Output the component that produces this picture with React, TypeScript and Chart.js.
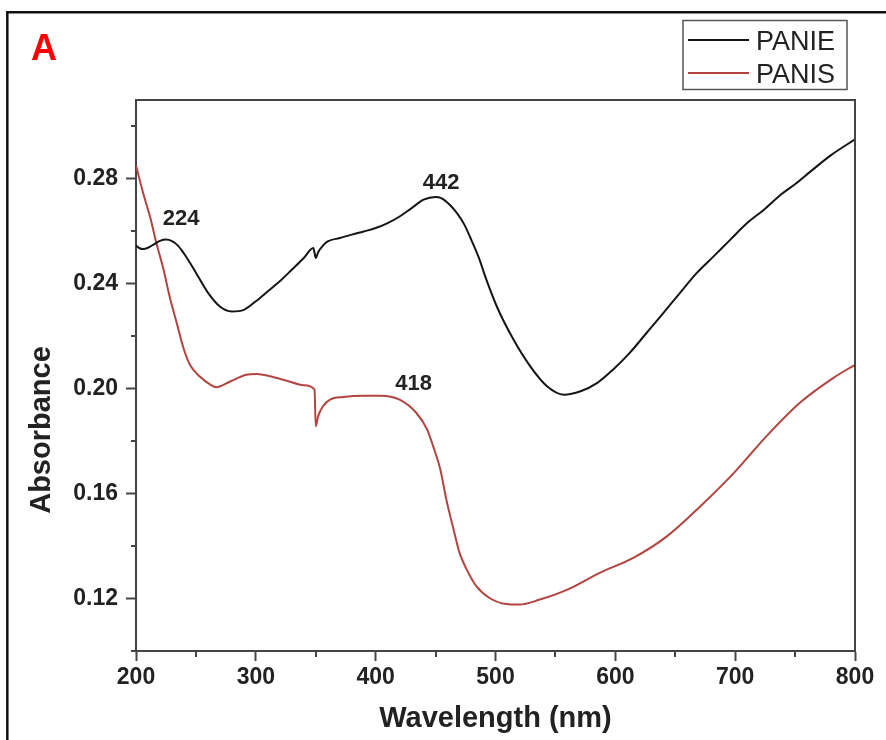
import React, { useEffect, useRef } from "react";
import { Chart, registerables } from "chart.js";

Chart.register(...registerables);

// ---- Data ----
const panieWavelength = [
  200, 203, 206, 210, 215, 220, 225, 230, 235, 240, 245, 250, 260, 270, 280, 290, 300, 310, 320, 330, 340,
  348, 350, 352, 356, 360, 370, 380, 390, 400, 410, 420, 430, 440, 450, 455, 462, 468, 474, 480, 486, 492,
  501, 515, 529, 543, 557, 571, 585, 598, 612, 626, 640, 654, 668, 682, 696, 710, 724, 738, 751, 763, 780, 800,
];
const panieAbsorbance = [
  0.2545, 0.2535, 0.2532, 0.2537, 0.255, 0.2563, 0.2568, 0.2562, 0.2545, 0.2515, 0.248, 0.2442, 0.2366,
  0.2313, 0.2294, 0.23, 0.2333, 0.2371, 0.2409, 0.2453, 0.2498, 0.2536, 0.2498, 0.252, 0.2545, 0.2561,
  0.2574, 0.2587, 0.2599, 0.2612, 0.2631, 0.2656, 0.2688, 0.272, 0.273, 0.2725, 0.27, 0.2668, 0.2625,
  0.2565, 0.25, 0.242, 0.2314, 0.2187, 0.2085, 0.2009, 0.1977, 0.199, 0.2022, 0.2072, 0.2136, 0.2212,
  0.2288, 0.2365, 0.2441, 0.2504, 0.2568, 0.2631, 0.2682, 0.2739, 0.2783, 0.2828, 0.289, 0.295,
];
const panisWavelength = [
  200, 206, 212, 217, 223, 228, 234, 240, 245, 253, 262, 267, 279, 292, 301, 312, 326, 340, 349, 350,
  352, 356, 362, 373, 390, 404, 420, 434, 443, 448, 454, 459, 465, 470, 476, 484, 495, 509, 520, 537,
  560, 587, 615, 643, 671, 699, 726, 754, 782, 800,
];
const panisAbsorbance = [
  0.285, 0.2745, 0.265, 0.2555, 0.2453, 0.2352, 0.225, 0.2149, 0.2091, 0.2047, 0.2015, 0.2005, 0.2028,
  0.2053, 0.2056, 0.2047, 0.203, 0.2013, 0.1996, 0.1857, 0.1895, 0.1933, 0.1958, 0.1968, 0.1973, 0.1973,
  0.1958, 0.1907, 0.1844, 0.178, 0.1691, 0.1577, 0.1463, 0.1374, 0.131, 0.1247, 0.1202, 0.1179, 0.1177,
  0.1196, 0.1234, 0.1298, 0.1355, 0.1437, 0.1552, 0.1679, 0.1818, 0.1946, 0.2041, 0.2091,
];
const seriesNames = ["PANIE", "PANIS"];
const xMajorTicks = [200, 300, 400, 500, 600, 700, 800];
const xMinorTicks = [250, 350, 450, 550, 650, 750];
const yMajorTicks = [0.12, 0.16, 0.2, 0.24, 0.28];
const yMinorTicks = [0.1, 0.14, 0.18, 0.22, 0.26, 0.3];
const peakLabels = ["224", "442", "418"];
const peakLabelX = [237.6, 454.6, 431.6];
const peakLabelY = [0.2625, 0.2762, 0.1996];

const AXIS_COLOR = "#444";
const TEXT_COLOR = "#222";
const FONT = "'Liberation Sans', Arial, Helvetica, sans-serif";

const decorPlugin = {
  id: "decor",
  afterDraw(chart: any) {
    const { ctx, chartArea, scales } = chart;
    const xs = scales.x;
    const ys = scales.y;
    ctx.save();
    // top and right frame of plot
    ctx.strokeStyle = AXIS_COLOR;
    ctx.lineWidth = 2;
    ctx.beginPath();
    ctx.moveTo(chartArea.left, chartArea.top);
    ctx.lineTo(chartArea.right, chartArea.top);
    ctx.lineTo(chartArea.right, chartArea.bottom);
    ctx.stroke();
    // minor ticks
    ctx.beginPath();
    xMinorTicks.forEach((v) => {
      const px = Math.round(xs.getPixelForValue(v));
      ctx.moveTo(px, chartArea.bottom);
      ctx.lineTo(px, chartArea.bottom + 6);
    });
    yMinorTicks.forEach((v) => {
      const py = Math.round(ys.getPixelForValue(v));
      ctx.moveTo(chartArea.left - 5, py);
      ctx.lineTo(chartArea.left, py);
    });
    ctx.stroke();

    // outer figure frame
    ctx.strokeStyle = "#111";
    ctx.lineWidth = 2.5;
    ctx.beginPath();
    ctx.moveTo(7.3, 760);
    ctx.lineTo(7.3, 12.2);
    ctx.lineTo(900, 12.2);
    ctx.stroke();

    // panel letter
    ctx.fillStyle = "#ff0000";
    ctx.font = `bold 36px ${FONT}`;
    ctx.textAlign = "left";
    ctx.textBaseline = "alphabetic";
    ctx.fillText("A", 31, 60);

    // peak labels
    ctx.fillStyle = TEXT_COLOR;
    ctx.font = `bold 22px ${FONT}`;
    ctx.textAlign = "center";
    peakLabels.forEach((t, i) => {
      ctx.fillText(t, xs.getPixelForValue(peakLabelX[i]), ys.getPixelForValue(peakLabelY[i]));
    });

    // y axis title
    ctx.save();
    ctx.translate(50, 430);
    ctx.rotate(-Math.PI / 2);
    ctx.font = `bold 29px ${FONT}`;
    ctx.textAlign = "center";
    ctx.textBaseline = "alphabetic";
    ctx.fillText("Absorbance", 0, 0);
    ctx.restore();

    // legend
    ctx.strokeStyle = "#555";
    ctx.lineWidth = 1.5;
    ctx.strokeRect(683, 20.5, 164, 69);
    chart.data.datasets.forEach((ds: any, i: number) => {
      const ly = i === 0 ? 40 : 73;
      ctx.strokeStyle = ds.borderColor;
      ctx.lineWidth = 2;
      ctx.beginPath();
      ctx.moveTo(688, ly);
      ctx.lineTo(749, ly);
      ctx.stroke();
      ctx.fillStyle = TEXT_COLOR;
      ctx.font = `27px ${FONT}`;
      ctx.textAlign = "left";
      ctx.textBaseline = "alphabetic";
      ctx.fillText(ds.label, 756, i === 0 ? 49.5 : 82.5);
    });
    ctx.restore();
  },
};

export default function App() {
  const canvasRef = useRef<HTMLCanvasElement | null>(null);

  useEffect(() => {
    if (!canvasRef.current) return;
    const chart = new Chart(canvasRef.current, {
      type: "line",
      data: {
        datasets: [
          {
            label: seriesNames[0],
            data: panieWavelength.map((x, i) => ({ x, y: panieAbsorbance[i] })),
            borderColor: "#151515",
            borderWidth: 2,
            pointRadius: 0,
            cubicInterpolationMode: "monotone",
            fill: false,
          },
          {
            label: seriesNames[1],
            data: panisWavelength.map((x, i) => ({ x, y: panisAbsorbance[i] })),
            borderColor: "#b3443f",
            borderWidth: 2,
            pointRadius: 0,
            cubicInterpolationMode: "monotone",
            fill: false,
          },
        ],
      },
      options: {
        animation: false,
        responsive: false,
        devicePixelRatio: 1,
        layout: { padding: { left: 0, top: 100, right: 31, bottom: 0 } },
        plugins: { legend: { display: false }, tooltip: { enabled: false } },
        scales: {
          x: {
            type: "linear",
            min: 200,
            max: 800,
            afterBuildTicks: (scale: any) => {
              scale.ticks = xMajorTicks.map((v) => ({ value: v }));
            },
            afterFit: (scale: any) => {
              scale.height = 89;
            },
            ticks: {
              color: TEXT_COLOR,
              font: { family: FONT, size: 23, weight: "bold" },
              padding: 3,
              maxRotation: 0,
              callback: (v: any) => String(v),
            },
            grid: {
              display: true,
              drawOnChartArea: false,
              drawTicks: true,
              tickLength: 10,
              tickColor: AXIS_COLOR,
              tickWidth: 2,
            },
            border: { display: true, color: AXIS_COLOR, width: 2 },
            title: {
              display: true,
              text: "Wavelength (nm)",
              color: TEXT_COLOR,
              font: { family: FONT, size: 29, weight: "bold" },
              padding: { top: 0, bottom: 4 },
            },
          },
          y: {
            type: "linear",
            min: 0.1,
            max: 0.31,
            afterBuildTicks: (scale: any) => {
              scale.ticks = yMajorTicks.map((v) => ({ value: v }));
            },
            afterFit: (scale: any) => {
              scale.width = 136;
            },
            ticks: {
              color: TEXT_COLOR,
              font: { family: FONT, size: 23, weight: "bold" },
              padding: 8,
              callback: (v: any) => Number(v).toFixed(2),
            },
            grid: {
              display: true,
              drawOnChartArea: false,
              drawTicks: true,
              tickLength: 10,
              tickColor: AXIS_COLOR,
              tickWidth: 2,
            },
            border: { display: true, color: AXIS_COLOR, width: 2 },
          },
        },
      },
      plugins: [decorPlugin],
    } as any);
    return () => chart.destroy();
  }, []);

  return (
    <div style={{ position: "fixed", left: 0, top: 0, width: 886, height: 740, background: "#fff" }}>
      <canvas ref={canvasRef} width={886} height={740} style={{ display: "block" }} />
    </div>
  );
}
